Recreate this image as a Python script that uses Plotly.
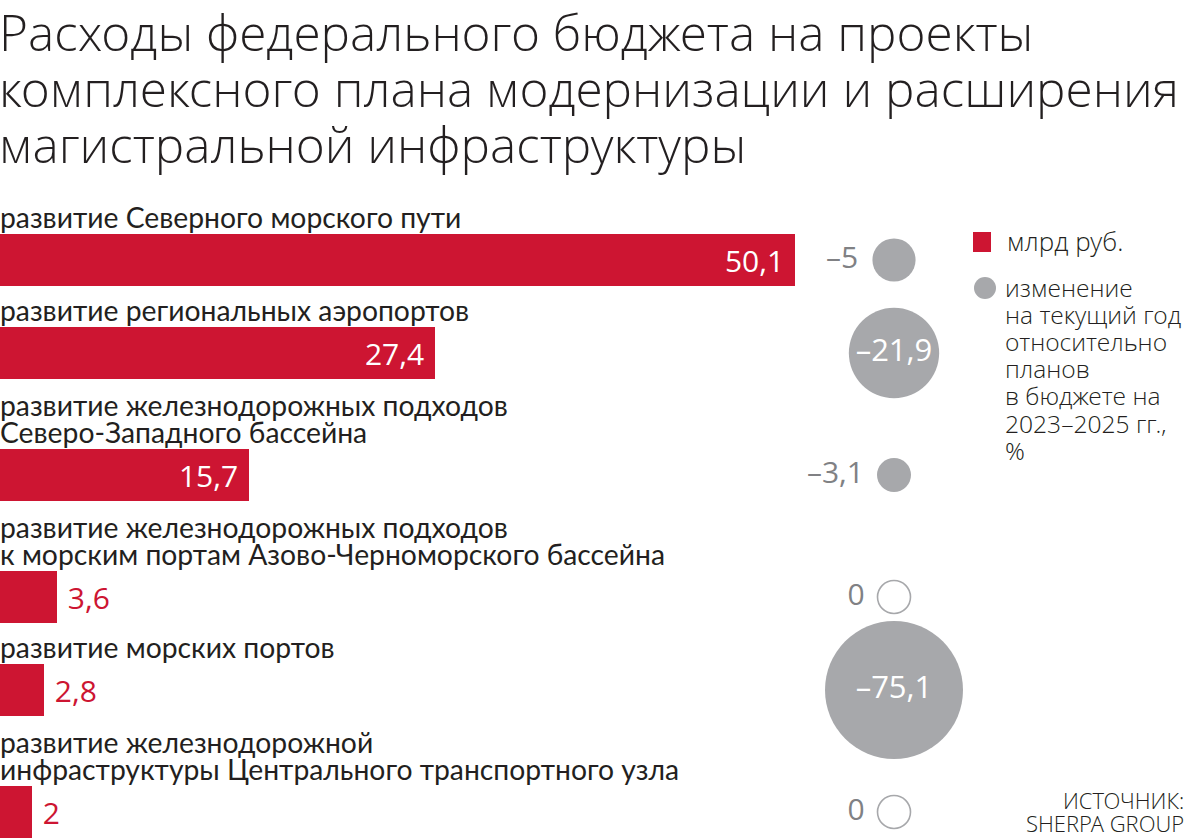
import plotly.graph_objects as go

# ---------------- data ----------------
title_lines = [
    "Расходы федерального бюджета на проекты",
    "комплексного плана модернизации и расширения",
    "магистральной инфраструктуры",
]
categories = [
    "развитие Северного морского пути",
    "развитие региональных аэропортов",
    "развитие железнодорожных подходов\nСеверо-Западного бассейна",
    "развитие железнодорожных подходов\nк морским портам Азово-Черноморского бассейна",
    "развитие морских портов",
    "развитие железнодорожной\nинфраструктуры Центрального транспортного узла",
]
spend_bln = [50.1, 27.4, 15.7, 3.6, 2.8, 2]
change_pct = [-5, -21.9, -3.1, 0, -75.1, 0]
legend_bar = "млрд руб."
legend_circle = ["изменение", "на текущий год", "относительно", "планов",
                 "в бюджете на", "2023–2025 гг.,", "%"]
source_lines = ["ИСТОЧНИК:", "SHERPA GROUP"]

# ---------------- style / layout ----------------
W, H = 1193, 839
RED = "#CD1532"
GREY = "#A7A8AB"
GREY_TXT = "#808184"
DARK = "#231F20"
PX_PER_UNIT = 15.87          # bar length scale (px per bln rub)
BAR_H = 52
FIRST_TOP = 234
ROW_BASE = 64                # spacing per row, plus per label line
LINE_H = 29
CIRCLE_X = 894
BUBBLE_K = 19.3              # diameter = K * sqrt(|change|)
BUBBLE_MIN, BUBBLE_MAX = 33, 138
LABEL_FONT = "Lato"
LIGHT_FONT = "Open Sans Light, Lato Light, Roboto Light, Open Sans"
NBSP = "&nbsp;"


def fmt(v):
    s = ("%g" % abs(v)).replace(".", ",")
    return ("–" + s) if v < 0 else s


# row positions derived from the number of label lines
lines_per_cat = [c.count("\n") + 1 for c in categories]
tops = []
for i, n in enumerate(lines_per_cat):
    if i == 0:
        tops.append(FIRST_TOP)
    else:
        tops.append(tops[-1] + ROW_BASE + LINE_H * n)
centers = [t + BAR_H / 2 for t in tops]

fig = go.Figure()

# bars
bar_in = [v > 10 for v in spend_bln]
bar_text = [(fmt(v) + NBSP) if ins else (NBSP + fmt(v)) for v, ins in zip(spend_bln, bar_in)]
bar_pos = ["inside" if ins else "outside" for ins in bar_in]
bar_txt_col = ["white" if ins else RED for ins in bar_in]
fig.add_trace(go.Bar(
    x=spend_bln, y=centers, orientation="h", width=BAR_H,
    marker=dict(color=RED, line=dict(width=0)),
    text=bar_text, textposition=bar_pos, insidetextanchor="end",
    textfont=dict(family="Open Sans", size=30, color=bar_txt_col),
    constraintext="none", cliponaxis=False, textangle=0,
    hoverinfo="skip", showlegend=False,
))

# circles
sizes = [min(BUBBLE_MAX, max(BUBBLE_MIN, BUBBLE_K * abs(v) ** 0.5)) for v in change_pct]
c_fill = [GREY if v != 0 else "white" for v in change_pct]
c_line = [0 if v != 0 else 1.6 for v in change_pct]
inside = [s > 60 for s in sizes]
c_text = [fmt(v) if ins else (fmt(v) + NBSP) for v, ins in zip(change_pct, inside)]
c_pos = ["middle center" if ins else "middle left" for ins in inside]
c_txtcol = ["white" if ins else GREY_TXT for ins in inside]
c_size = [31 if ins else 30 for ins in inside]
fig.add_trace(go.Scatter(
    x=[CIRCLE_X] * len(change_pct), y=centers, xaxis="x2", yaxis="y",
    mode="markers+text",
    marker=dict(size=sizes, color=c_fill, opacity=1,
                line=dict(color=GREY, width=c_line)),
    text=c_text, textposition=c_pos,
    textfont=dict(family="Open Sans", size=c_size, color=c_txtcol),
    cliponaxis=False, hoverinfo="skip", showlegend=False,
))

annotations = []
# title
for i, t in enumerate(title_lines):
    annotations.append(dict(
        x=0, y=32 + 56 * i, xref="paper", yref="y", xanchor="left", yanchor="middle",
        text=t, showarrow=False, xshift=-3,
        font=dict(family=LIGHT_FONT, size=49.5, color=DARK, weight=300),
    ))
# category labels
for top, cat in zip(tops, categories):
    parts = cat.split("\n")
    for j, p in enumerate(parts):
        y = top - 17 - 27 * (len(parts) - 1 - j)
        annotations.append(dict(
            x=0, y=y, xref="paper", yref="y", xanchor="left", yanchor="middle",
            text=p, showarrow=False, xshift=-2,
            font=dict(family=LABEL_FONT, size=28.3, color=DARK),
        ))
# legend
annotations.append(dict(
    x=1005 / W, y=241, xref="paper", yref="y", xanchor="left", yanchor="middle",
    text=legend_bar, showarrow=False,
    font=dict(family=LIGHT_FONT, size=26, color=DARK, weight=300),
))
for j, p in enumerate(legend_circle):
    annotations.append(dict(
        x=1003 / W, y=287 + 27.2 * j, xref="paper", yref="y", xanchor="left",
        yanchor="middle", text=p, showarrow=False,
        font=dict(family=LIGHT_FONT, size=24.6, color=DARK, weight=300),
    ))
# source
for j, p in enumerate(source_lines):
    annotations.append(dict(
        x=1186 / W, y=800 + 23 * j, xref="paper", yref="y", xanchor="right",
        yanchor="middle", text=p, showarrow=False,
        font=dict(family=LIGHT_FONT, size=22, color=DARK, weight=300),
    ))

shapes = [
    dict(type="rect", xref="paper", yref="y", x0=973 / W, x1=991 / W, y0=232, y1=252,
         fillcolor=RED, line=dict(width=0)),
    dict(type="circle", xref="paper", yref="y", x0=974 / W, x1=996 / W, y0=277, y1=299,
         fillcolor=GREY, line=dict(width=0)),
]

fig.update_layout(
    width=W, height=H, margin=dict(l=0, r=0, t=0, b=0),
    paper_bgcolor="white", plot_bgcolor="white",
    xaxis=dict(range=[0, W / PX_PER_UNIT], domain=[0, 1], visible=False, fixedrange=True),
    xaxis2=dict(range=[0, W], domain=[0, 1], overlaying="x", visible=False, fixedrange=True),
    yaxis=dict(range=[H, 0], domain=[0, 1], visible=False, fixedrange=True),
    annotations=annotations, shapes=shapes, bargap=0,
)

fig.write_html("out.html", config={"displayModeBar": False},
               post_script="document.body.style.margin='0px';")
